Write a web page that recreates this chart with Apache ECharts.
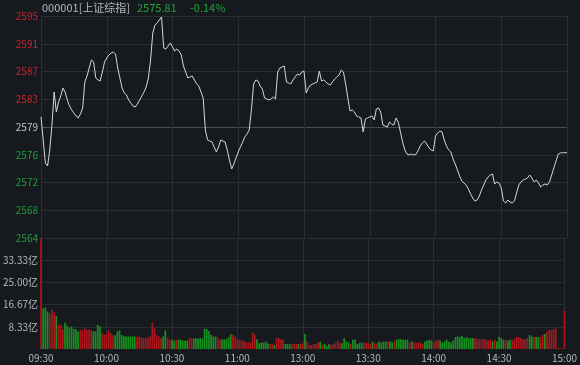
<!DOCTYPE html>
<html>
<head>
<meta charset="utf-8">
<script src="https://cdn.jsdelivr.net/npm/echarts@6/dist/echarts.min.js"></script>
<style>
html,body{margin:0;padding:0;background:#16191e;}
#chart{width:580px;height:365px;}
</style>
</head>
<body>
<div id="chart"></div>
<script>
const stockCode = '000001[上证综指]';
const lastPrice = '2575.81';
const changePct = '-0.14%';
const prevClose = 2579.42;
const timeLabels = ['09:30','10:00','10:30','11:00','13:00','13:30','14:00','14:30','15:00'];

const prices = [
2580.83,2577.59,2574.36,2573.94,2576.19,2579.70,2584.34,2581.53,2582.94,2583.78,
2584.90,2584.34,2583.22,2582.37,2581.81,2581.39,2580.97,2580.69,2581.25,2582.09,
2585.75,2586.59,2587.71,2588.84,2588.56,2586.31,2586.03,2585.89,2587.15,2588.56,
2589.12,2589.54,2589.82,2589.96,2589.68,2587.71,2586.31,2584.90,2584.20,2583.92,
2583.22,2582.79,2582.37,2582.23,2582.65,2583.22,2583.78,2584.34,2585.04,2586.31,
2588.84,2592.63,2593.76,2594.04,2594.46,2594.88,2590.52,2590.38,2590.81,2591.23,
2590.67,2590.10,2590.38,2590.10,2589.54,2587.99,2587.15,2586.31,2586.45,2586.59,
2586.03,2585.47,2585.18,2584.34,2583.50,2579.00,2577.59,2577.45,2577.31,2576.61,
2575.91,2576.61,2577.59,2577.45,2577.31,2576.19,2574.78,2573.52,2574.22,2575.07,
2575.91,2576.61,2577.31,2578.02,2578.44,2579.00,2581.81,2585.47,2586.03,2585.89,
2585.18,2584.76,2583.50,2583.36,2583.22,2583.36,2583.64,2583.36,2587.15,2587.71,
2587.85,2587.99,2585.75,2585.61,2585.47,2586.03,2586.45,2586.87,2586.73,2587.15,
2587.29,2584.20,2584.90,2585.32,2585.47,2585.61,2585.75,2587.29,2585.89,2586.03,
2585.75,2585.47,2585.32,2585.75,2586.17,2586.45,2586.73,2587.43,2587.15,2585.47,
2583.50,2581.67,2581.81,2581.53,2580.97,2580.83,2580.69,2578.72,2580.55,2580.69,
2580.83,2580.97,2580.41,2581.95,2582.09,2581.53,2579.70,2579.56,2579.42,2580.12,
2579.84,2579.70,2580.69,2580.12,2578.72,2577.31,2576.19,2575.63,2575.49,2575.63,
2575.49,2575.55,2576.05,2576.75,2577.17,2577.45,2577.03,2576.47,2576.19,2576.05,
2578.16,2578.58,2578.86,2578.72,2577.59,2576.75,2576.19,2575.91,2574.92,2574.22,
2573.38,2572.54,2571.83,2571.55,2571.27,2570.71,2570.01,2569.44,2569.02,2569.16,
2569.72,2570.57,2571.27,2571.97,2572.39,2572.68,2572.82,2571.41,2571.69,2571.55,
2570.85,2569.02,2568.74,2569.16,2568.88,2568.74,2569.02,2570.15,2571.27,2571.69,
2571.97,2572.11,2572.25,2572.68,2572.25,2571.69,2571.97,2571.55,2570.99,2571.27,
2571.41,2571.27,2571.69,2572.68,2573.66,2574.64,2575.60,2575.78,2575.80,2575.80,
2575.81
];

// volume in 亿
const volumes = [
41.66,15.3,15.5,14.1,13.4,14.7,13.7,12.4,9.1,9.1,
7.5,9.9,8.7,7.8,8.5,7.5,7.5,6.6,7.2,7.0,
7.8,7.2,7.2,7.2,6.6,6.6,9.1,8.5,6.0,5.3,
5.7,7.0,6.0,5.3,5.1,6.6,7.0,5.3,4.8,4.7,
4.7,4.7,4.7,4.7,4.5,4.7,4.3,4.1,4.1,4.3,
4.7,9.9,7.8,5.3,4.7,4.1,4.7,7.0,4.1,3.5,
3.5,3.1,3.5,3.5,3.5,3.2,3.2,3.2,4.1,4.1,
3.9,4.0,3.9,4.1,3.9,7.6,7.5,6.8,5.3,4.7,
4.7,4.5,3.5,3.7,3.7,3.7,4.5,5.6,5.3,4.7,
3.7,3.5,3.2,3.2,2.4,2.4,2.4,6.2,5.3,3.7,
2.2,2.4,2.4,2.8,2.2,1.9,1.9,1.5,4.1,4.1,
3.7,3.5,1.9,1.9,1.9,1.9,1.9,1.9,1.9,1.9,
2.2,5.6,2.8,1.5,1.5,1.9,1.9,2.4,2.8,1.5,
1.9,1.2,1.9,1.5,1.9,2.2,3.2,2.4,2.2,4.1,
2.8,2.4,1.9,3.5,3.5,1.9,2.2,2.4,2.4,2.4,
2.2,1.9,2.8,2.2,2.2,2.8,2.4,2.8,2.8,2.8,
2.8,2.4,2.8,3.5,3.7,3.7,3.5,3.5,3.5,2.4,
2.8,2.4,2.4,2.4,2.4,1.9,2.8,3.2,3.5,3.2,
2.4,3.2,3.5,3.2,2.4,2.8,3.5,2.8,2.4,3.2,
4.5,4.7,4.5,5.0,4.1,4.5,4.1,4.1,4.1,4.1,
3.7,3.7,3.7,3.7,3.5,3.2,3.5,2.8,3.5,2.8,
4.5,4.1,3.5,3.5,3.2,3.5,3.2,3.7,4.5,4.5,
4.1,3.7,3.7,4.1,5.3,4.7,4.5,4.5,4.5,4.5,
5.3,5.6,6.6,7.2,7.0,7.5,7.8,0.5,0.3,0.3,
14.4
];

const RED = '#c4262c', GREEN = '#1f9e3a', GRAY = '#c2c5ca';
const BAR_RED = '#aa161b', BAR_GREEN = '#18901f';
const GRID = '#2a2d33', MID = '#4b4e54';
const FONT = '"Noto Sans CJK SC", "Noto Sans", sans-serif';

const priceStep = 3.9;
const priceMin = +(prevClose - 4 * priceStep).toFixed(2);
const priceMax = +(prevClose + 4 * priceStep).toFixed(2);
const volMax = 41.665, volStep = 8.333;

const lineData = prices.map((v, i) => [i, v]);
const barData = volumes.map((v, i) => {
  const prev = i === 0 ? prevClose : prices[i - 1];
  return { value: [i, v], itemStyle: { color: prices[i] >= prev ? BAR_RED : BAR_GREEN } };
});

const chart = echarts.init(document.getElementById('chart'), null, { renderer: 'canvas' });
const xCommon = {
  type: 'value', min: 0, max: 240, interval: 30,
  axisLine: { show: false }, axisTick: { show: false },
  splitLine: { show: true, lineStyle: { color: GRID, width: 1 } }
};
chart.setOption({
  backgroundColor: '#16191e',
  animation: false,
  textStyle: { fontFamily: FONT },
  graphic: [
    { type: 'text', left: 42, top: 2, style: { text: stockCode, fill: '#b4b8be', font: '11px ' + FONT } },
    { type: 'text', left: 137, top: 2, style: { text: lastPrice, fill: '#1fa33a', font: '11px ' + FONT } },
    { type: 'text', left: 190, top: 2, style: { text: changePct, fill: '#1fa33a', font: '11px ' + FONT } }
  ],
  grid: [
    { left: 41, top: 16, width: 526, height: 222 },
    { left: 41, top: 238, width: 526, height: 111 }
  ],
  xAxis: [
    Object.assign({}, xCommon, { gridIndex: 0, axisLabel: { show: false } }),
    Object.assign({}, xCommon, {
      gridIndex: 1,
      axisLabel: {
        show: true, color: '#b4b8bd', fontSize: 10, fontFamily: FONT, margin: 4,
        formatter: v => timeLabels[Math.round(v / 30)]
      }
    })
  ],
  yAxis: [
    {
      type: 'value', gridIndex: 0, min: priceMin, max: priceMax, interval: priceStep,
      axisLine: { show: true, lineStyle: { color: GRID } }, axisTick: { show: false },
      splitLine: { show: true, lineStyle: { color: [GRID, GRID, GRID, GRID, MID, GRID, GRID, GRID, GRID] } },
      axisLabel: {
        fontSize: 10, fontFamily: FONT, margin: 3,
        formatter: v => String(Math.round(v)),
        color: v => (v > prevClose + 0.05 ? RED : (v < prevClose - 0.05 ? GREEN : GRAY))
      }
    },
    {
      type: 'value', gridIndex: 1, min: 0, max: volMax, interval: volStep,
      axisLine: { show: true, lineStyle: { color: GRID } }, axisTick: { show: false },
      splitLine: { show: true, lineStyle: { color: ['rgba(0,0,0,0)', GRID, GRID, GRID, GRID, GRID] } },
      axisLabel: {
        fontSize: 10, fontFamily: FONT, margin: 3, color: '#b4b8bd',
        showMinLabel: false, showMaxLabel: false,
        formatter: v => (v < 0.01 || v > volMax - 0.01) ? '' : v.toFixed(2) + '亿'
      }
    }
  ],
  series: [
    {
      type: 'line', xAxisIndex: 0, yAxisIndex: 0, data: lineData,
      showSymbol: false, symbol: 'none',
      lineStyle: { color: '#d6d6d6', width: 1 }
    },
    {
      type: 'bar', xAxisIndex: 1, yAxisIndex: 1, data: barData,
      barWidth: 1.7
    }
  ]
});
</script>
</body>
</html>
